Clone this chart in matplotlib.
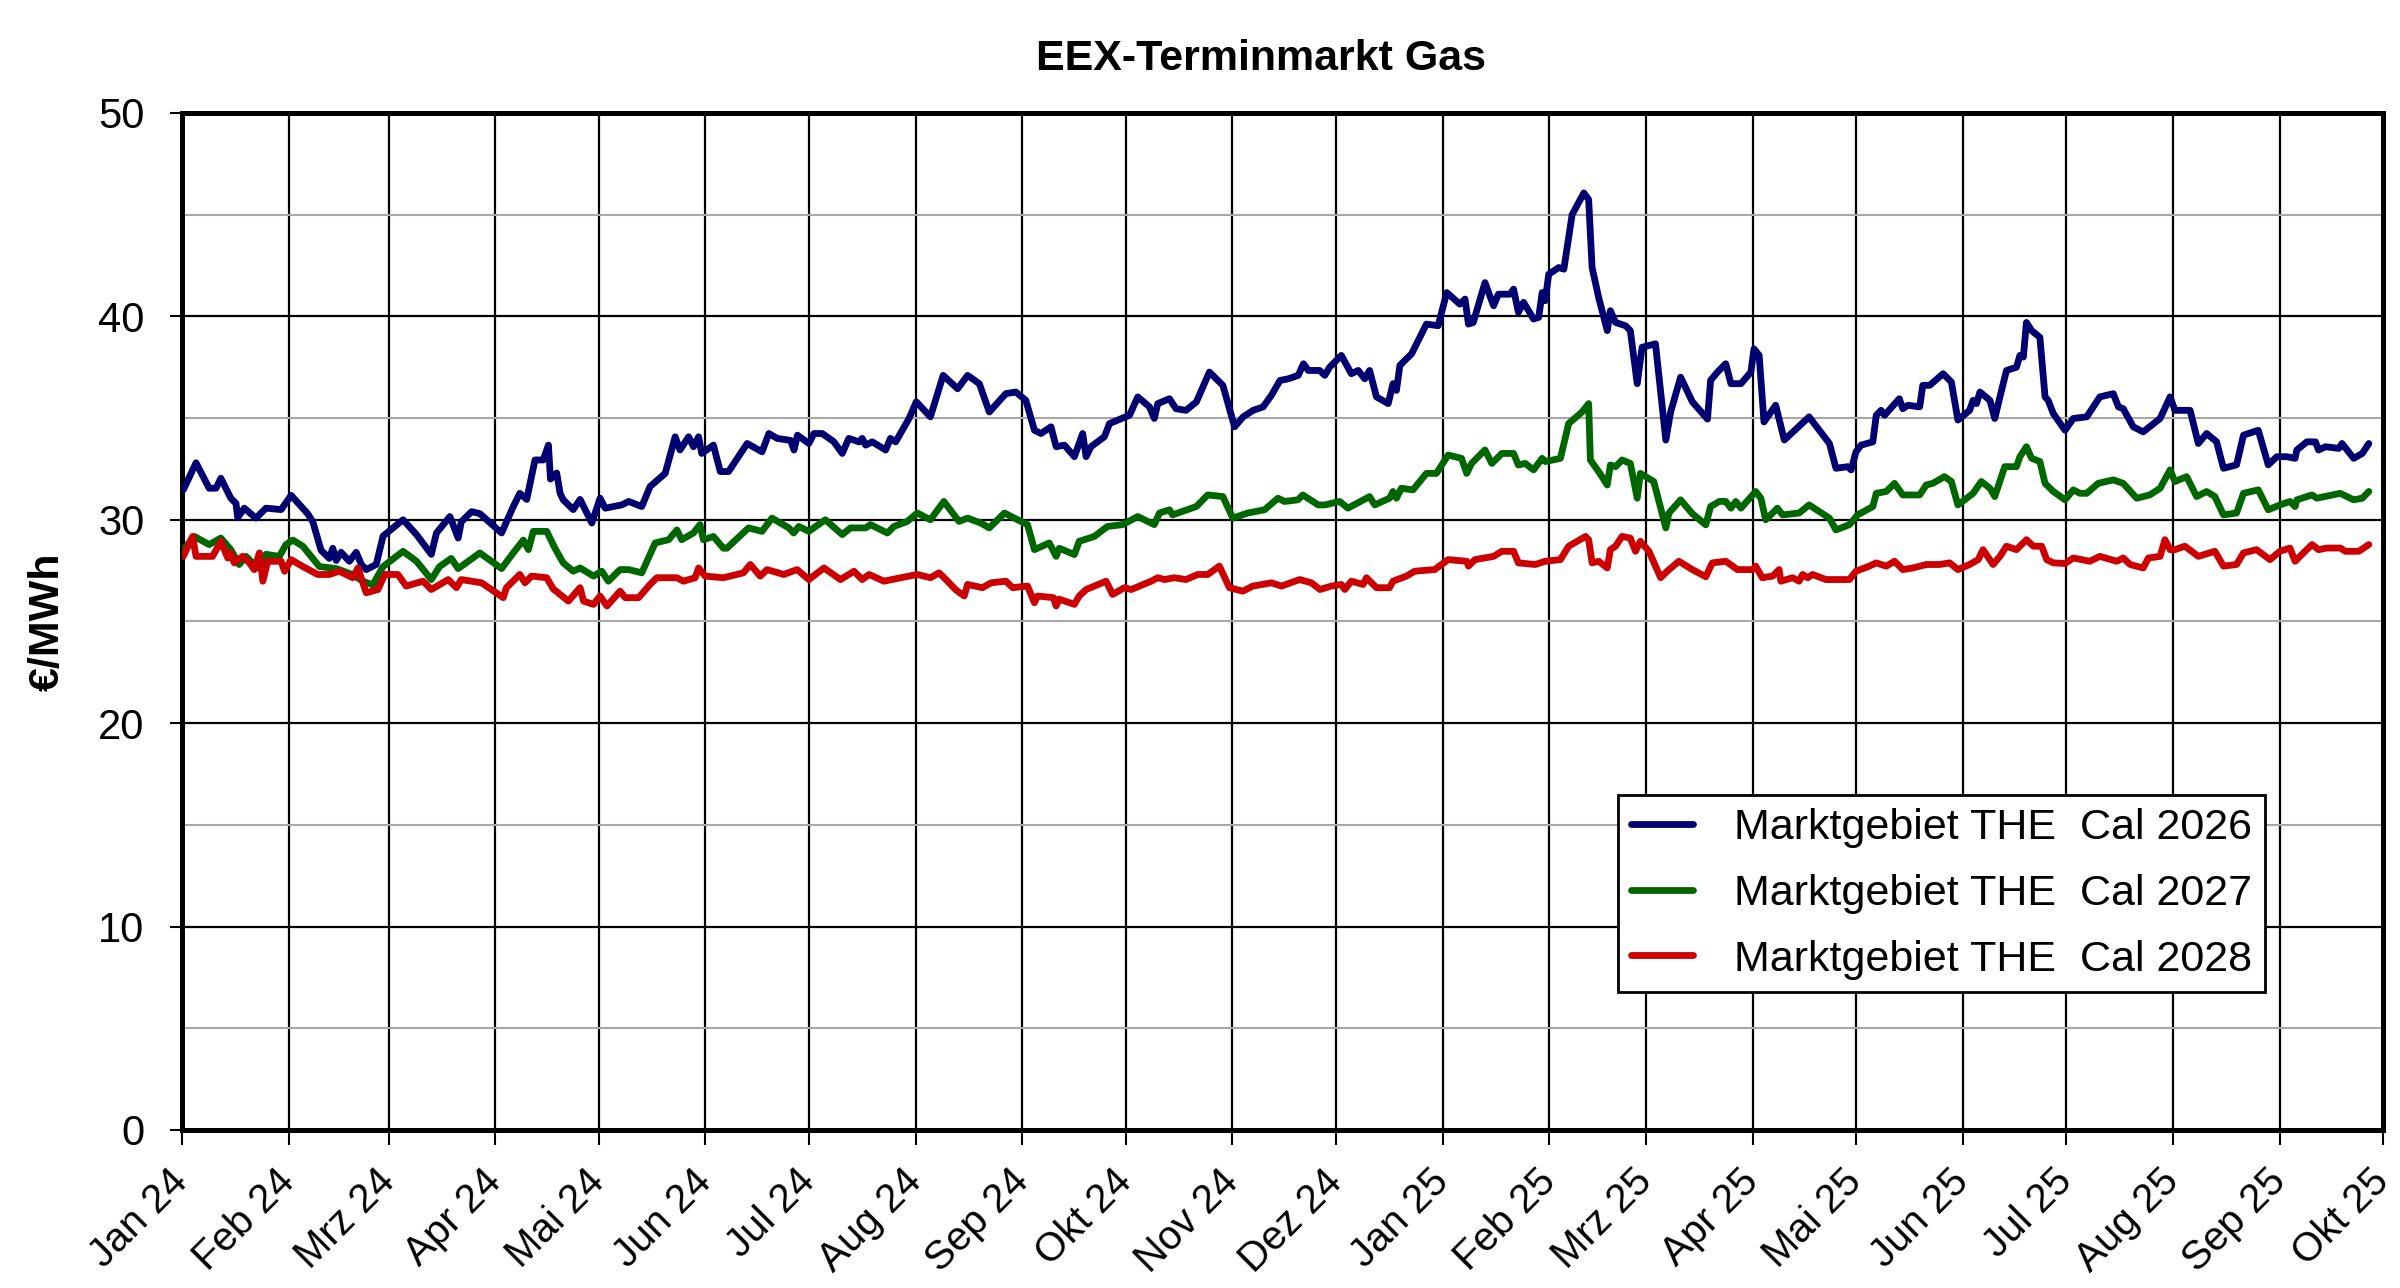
import datetime as dt
import numpy as np
import matplotlib
matplotlib.use("Agg")
import matplotlib.pyplot as plt
import matplotlib.dates as mdates
from matplotlib.ticker import MultipleLocator

plt.rcParams['font.family'] = ['Liberation Sans', 'DejaVu Sans']

title = "EEX-Terminmarkt Gas"
ylabel = "€/MWh"
series_names = ["Marktgebiet THE  Cal 2026", "Marktgebiet THE  Cal 2027", "Marktgebiet THE  Cal 2028"]
series_colors = ["#000070", "#006600", "#CC0000"]

start_date = dt.date(2024, 1, 1)
end_date = dt.date(2025, 10, 1)
month_labels = ["Jan 24", "Feb 24", "Mrz 24", "Apr 24", "Mai 24", "Jun 24", "Jul 24", "Aug 24",
                "Sep 24", "Okt 24", "Nov 24", "Dez 24", "Jan 25", "Feb 25", "Mrz 25", "Apr 25",
                "Mai 25", "Jun 25", "Jul 25", "Aug 25", "Sep 25", "Okt 25"]

# days since 2024-01-01 and values
cal26_days = [0.4, 4.1, 7.9, 9.9, 11.3, 14.2, 15.7, 16.2, 18.1, 21.5, 24.4, 28.8, 31.7, 36.5, 38.0, 40.4,
              42.8, 43.8, 44.8, 46.2, 48.6, 50.6, 52.1, 53.5, 56.4, 58.4, 64.2, 68.1, 72.4, 73.9, 77.8,
              80.2, 81.1, 84.1, 86.5, 92.8, 96.2, 98.1, 100.1, 102.5, 104.9, 106.4, 107.0, 108.8, 109.8,
              110.7, 113.6, 115.6, 119.0, 121.4, 122.9, 127.7, 129.7, 133.5, 135.9, 140.3, 143.2, 144.6,
              147.1, 148.5, 150.0, 150.9, 154.3, 156.3, 158.7, 164.1, 168.4, 170.4, 172.8, 176.7, 177.7,
              178.7, 182.0, 183.5, 185.9, 189.3, 191.7, 193.6, 196.6, 197.5, 198.5, 200.4, 204.3, 205.7,
              207.2, 211.1, 213.2, 217.3, 221.0, 225.2, 228.1, 231.5, 234.4, 239.2, 242.1, 245.0, 247.5,
              249.4, 252.3, 253.8, 256.2, 259.1, 261.5, 262.5, 263.9, 267.8, 269.3, 275.1, 277.5, 280.9,
              282.3, 283.3, 286.7, 288.6, 291.5, 294.5, 298.3, 302.2, 305.6, 308.1, 311.0, 313.9, 316.3,
              318.8, 321.2, 324.1, 325.6, 327.0, 330.3, 331.8, 333.2, 336.6, 339.5, 341.5, 343.4, 344.8,
              346.8, 350.2, 351.6, 352.6, 353.6, 357.0, 361.3, 364.7, 367.2, 371.0, 372.5, 373.5, 374.9,
              378.3, 380.8, 382.2, 385.6, 386.6, 388.0, 389.5, 392.4, 393.9, 394.9, 395.8, 396.8, 399.7,
              401.2, 403.6, 407.0, 408.4, 409.4, 411.3, 413.8, 414.7, 416.2, 419.1, 420.5, 422.5, 423.9,
              427.8, 430.8, 432.2, 435.1, 438.5, 442.9, 443.8, 445.8, 448.2, 449.7, 452.6, 455.5, 456.4,
              457.9, 459.3, 462.7, 465.2, 472.4, 478.3, 480.2, 483.6, 484.6, 486.0, 487.5, 490.9, 491.9,
              493.3, 494.3, 498.6, 499.6, 501.1, 504.5, 505.4, 507.4, 511.3, 513.7, 515.6, 519.0, 520.0,
              521.0, 522.0, 524.9, 526.3, 527.8, 529.7, 532.6, 533.6, 534.6, 535.5, 537.0, 539.4, 540.9,
              541.8, 543.3, 546.7, 549.1, 553.0, 556.8, 560.7, 562.2, 563.6, 566.5, 569.4, 574.3, 577.2,
              578.6, 583.0, 585.4, 587.8, 590.7, 592.7, 596.5, 598.5, 602.8, 605.7, 608.2, 611.1, 613.5,
              614.0, 616.9, 619.4, 620.3, 622.3, 626.2, 627.1, 630.5, 633.0, 634.9]
cal26_vals = [31.47, 32.8, 31.55, 31.55, 32.04, 31.06, 30.8, 30.1, 30.57, 30.08, 30.57, 30.5, 31.2, 30.3,
              29.9, 28.5, 28.1, 28.6, 28.0, 28.4, 27.96, 28.4, 27.8, 27.55, 27.8, 29.2, 30.0, 29.27, 28.3,
              29.35, 30.16, 29.1, 29.9, 30.4, 30.3, 29.35, 30.65, 31.3, 31.0, 32.94, 32.94, 33.67, 32.0,
              32.3, 31.3, 30.98, 30.5, 31.0, 29.84, 31.06, 30.57, 30.73, 30.9, 30.65, 31.63, 32.28, 34.08,
              33.43, 34.08, 33.59, 34.08, 33.26, 33.67, 32.37, 32.37, 33.75, 33.34, 34.24, 34.0, 33.9,
              33.43, 34.16, 33.75, 34.24, 34.24, 33.83, 33.26, 34.0, 33.83, 34.0, 33.67, 33.83, 33.43,
              34.0, 33.83, 34.98, 35.8, 35.06, 37.1, 36.44, 37.1, 36.69, 35.3, 36.2, 36.28, 35.87, 34.4,
              34.24, 34.57, 33.59, 33.67, 33.1, 34.24, 33.1, 33.59, 34.08, 34.73, 35.14, 36.04, 35.55,
              34.98, 35.71, 35.95, 35.46, 35.38, 35.79, 37.26, 36.61, 34.57, 35.06, 35.38, 35.55, 36.12,
              36.85, 36.93, 37.1, 37.67, 37.34, 37.34, 37.1, 37.5, 38.08, 37.18, 37.34, 36.93, 37.34,
              36.04, 35.71, 36.69, 36.36, 37.59, 38.16, 39.62, 39.54, 41.17, 40.6, 40.85, 39.62, 39.7,
              41.66, 40.52, 41.09, 41.09, 41.34, 40.2, 40.69, 39.87, 39.95, 41.17, 40.77, 42.07, 42.4,
              42.32, 45.0, 46.07, 45.74, 42.4, 40.93, 39.3, 40.28, 39.7, 39.54, 39.3, 36.69, 38.48, 38.65,
              33.92, 35.3, 37.01, 35.8, 34.95, 36.85, 37.26, 37.67, 36.69, 36.69, 37.26, 38.4, 38.08,
              34.81, 35.63, 33.92, 35.06, 33.75, 32.53, 32.61, 32.45, 33.34, 33.67, 33.83, 35.14, 35.38,
              35.14, 35.95, 35.46, 35.63, 35.55, 36.61, 36.61, 37.18, 36.77, 34.9, 35.38, 35.87, 35.71,
              36.28, 35.87, 34.98, 36.04, 37.34, 37.5, 38.08, 38.0, 39.7, 39.3, 38.97, 36.04, 35.87, 35.22,
              34.4, 34.98, 35.06, 36.04, 36.2, 35.55, 35.46, 34.57, 34.32, 34.98, 36.04, 35.38, 35.38,
              33.75, 34.24, 33.83, 32.53, 32.7, 34.16, 34.4, 32.7, 33.1, 33.1, 33.02, 33.43, 33.83, 33.83,
              33.43, 33.59, 33.51, 33.75, 33.02, 33.26, 33.75]

cal27_days = [0.4, 3.6, 7.9, 11.3, 14.2, 16.6, 18.6, 22.0, 24.4, 28.3, 30.2, 32.2, 35.1, 39.9, 44.8, 49.6,
              52.5, 55.4, 58.4, 64.2, 68.1, 72.4, 74.8, 78.2, 80.2, 86.5, 92.8, 96.2, 99.1, 100.6, 102.0,
              105.9, 108.3, 110.7, 113.6, 115.6, 119.5, 121.9, 123.8, 127.2, 129.7, 133.5, 137.4, 141.3,
              143.7, 145.1, 148.5, 150.4, 151.4, 154.3, 157.2, 158.2, 164.5, 168.4, 171.3, 176.2, 177.6,
              179.1, 182.0, 186.8, 191.7, 194.1, 198.5, 199.9, 204.8, 206.7, 210.6, 213.5, 217.3, 221.2,
              225.6, 228.1, 231.9, 234.4, 238.8, 242.6, 245.5, 247.5, 251.8, 253.8, 254.7, 259.1, 260.5,
              264.9, 268.7, 273.1, 277.5, 282.3, 283.8, 286.7, 287.6, 294.5, 297.8, 302.2, 305.1, 309.4,
              314.3, 318.2, 320.1, 324.0, 325.4, 329.9, 331.8, 336.1, 338.5, 344.8, 346.3, 350.6, 351.6,
              352.6, 354.0, 357.4, 361.3, 364.2, 367.6, 371.5, 373.0, 374.4, 378.3, 380.3, 383.2, 386.6,
              388.0, 390.0, 392.4, 394.9, 395.8, 400.2, 402.6, 406.5, 408.4, 408.9, 411.3, 413.8, 414.7,
              416.2, 418.1, 420.5, 422.5, 423.4, 427.3, 430.8, 431.7, 435.1, 438.5, 442.4, 443.8, 446.3,
              448.2, 449.7, 451.1, 452.6, 456.9, 458.4, 459.8, 463.2, 464.7, 469.5, 472.4, 478.3, 480.2,
              484.1, 486.5, 490.9, 491.9, 494.8, 497.2, 499.6, 504.5, 506.4, 508.3, 511.7, 513.7, 515.6,
              520.0, 522.4, 524.9, 526.3, 529.2, 532.6, 533.6, 535.5, 537.0, 539.4, 540.9, 543.3, 546.7,
              549.1, 551.0, 553.0, 556.3, 560.7, 563.6, 567.5, 571.3, 574.3, 577.2, 578.6, 582.0, 584.9,
              587.8, 590.2, 592.7, 596.5, 598.5, 602.8, 605.7, 609.1, 612.0, 613.5, 614.0, 618.4, 619.8,
              626.6, 630.5, 633.0, 634.9]
cal27_vals = [28.53, 29.18, 28.78, 29.1, 28.53, 27.8, 28.2, 27.63, 28.3, 28.2, 28.78, 29.0, 28.7, 27.7,
              27.6, 27.3, 26.98, 26.8, 27.7, 28.45, 27.96, 27.06, 27.7, 28.1, 27.6, 28.37, 27.6, 28.37,
              29.0, 28.53, 29.43, 29.43, 28.6, 27.88, 27.47, 27.63, 27.23, 27.47, 26.98, 27.55, 27.55,
              27.39, 28.86, 29.02, 29.5, 29.02, 29.35, 29.76, 29.02, 29.18, 28.6, 28.6, 29.6, 29.43, 30.08,
              29.6, 29.35, 29.67, 29.43, 30.0, 29.27, 29.6, 29.6, 29.76, 29.35, 29.67, 29.92, 30.33, 30.0,
              30.9, 29.92, 30.08, 29.84, 29.6, 30.33, 30.0, 29.76, 28.53, 28.86, 28.2, 28.6, 28.29, 28.94,
              29.18, 29.67, 29.76, 30.16, 29.76, 30.33, 30.49, 30.24, 30.65, 31.22, 31.14, 30.08, 30.33,
              30.49, 31.06, 30.9, 30.98, 31.22, 30.73, 30.73, 30.9, 30.57, 31.14, 30.73, 31.06, 31.39,
              31.06, 31.55, 31.47, 32.28, 32.28, 33.18, 33.02, 32.28, 32.77, 33.43, 32.77, 33.26, 33.26,
              32.69, 32.77, 32.45, 33.02, 32.86, 33.02, 34.73, 35.3, 35.71, 32.94, 32.37, 31.71, 32.69,
              32.61, 32.94, 32.77, 31.06, 32.28, 31.88, 29.6, 30.33, 30.98, 30.3, 29.75, 30.65, 30.9, 30.9,
              30.57, 30.9, 30.57, 31.39, 31.06, 30.0, 30.57, 30.24, 30.33, 30.73, 30.08, 29.5, 29.76, 30.24,
              30.65, 31.3, 31.39, 31.79, 31.22, 31.22, 31.71, 31.79, 32.12, 31.88, 30.73, 31.3, 31.88,
              31.55, 31.14, 32.61, 32.61, 33.1, 33.59, 33.02, 32.86, 31.79, 31.39, 30.98, 31.47, 31.3,
              31.3, 31.79, 31.96, 31.79, 31.06, 31.22, 31.55, 32.45, 31.88, 32.12, 31.14, 31.39, 31.14,
              30.24, 30.33, 31.3, 31.47, 30.49, 30.73, 30.9, 30.65, 30.98, 31.22, 31.06, 31.3, 30.98,
              31.06, 31.39]

cal28_days = [0.4, 3.1, 4.1, 8.9, 11.3, 13.3, 14.2, 15.2, 17.6, 19.6, 21.0, 22.5, 23.5, 24.9, 28.8, 29.8,
              31.7, 35.1, 39.4, 42.8, 45.7, 49.6, 51.1, 53.5, 56.9, 58.9, 62.7, 65.1, 70.0, 72.4, 77.3,
              79.7, 81.1, 87.0, 93.3, 94.2, 98.1, 99.6, 101.5, 105.9, 107.8, 112.2, 115.6, 116.6, 119.5,
              121.4, 123.4, 127.2, 128.7, 132.6, 135.9, 137.9, 143.7, 145.6, 149.0, 150.0, 151.9, 157.2,
              163.0, 165.0, 167.9, 169.9, 174.7, 178.6, 182.0, 186.4, 191.2, 195.1, 197.5, 199.5, 203.8,
              208.7, 213.5, 217.3, 219.8, 221.0, 224.6, 227.1, 228.1, 232.4, 234.9, 239.2, 241.2, 245.5,
              247.5, 248.4, 253.0, 253.8, 254.6, 259.1, 260.5, 262.5, 268.3, 270.2, 273.6, 275.6, 281.4,
              283.3, 285.3, 288.1, 291.5, 294.9, 297.8, 301.2, 304.1, 308.0, 310.9, 316.3, 319.2, 324.5,
              327.9, 330.4, 333.7, 336.6, 337.6, 339.5, 342.9, 343.9, 346.8, 350.6, 351.6, 355.5, 357.9,
              363.7, 367.6, 373.0, 373.5, 375.4, 380.8, 383.2, 386.6, 388.0, 392.9, 395.8, 400.2, 402.6,
              407.5, 408.4, 409.4, 411.3, 413.8, 414.7, 416.2, 418.1, 420.5, 422.0, 423.4, 425.9, 429.3,
              431.2, 434.6, 438.5, 442.4, 444.3, 448.2, 451.6, 456.0, 456.9, 458.8, 461.8, 463.7, 464.2,
              467.6, 469.5, 470.5, 472.0, 473.4, 477.3, 484.1, 486.0, 489.9, 491.9, 494.8, 497.2, 499.6,
              502.5, 506.4, 510.3, 513.2, 515.6, 519.0, 521.5, 522.9, 525.8, 527.8, 529.7, 532.6, 535.5,
              537.5, 539.9, 541.4, 543.3, 546.7, 549.1, 553.9, 556.8, 561.7, 563.6, 565.6, 569.4, 570.9,
              574.3, 575.7, 577.2, 578.6, 581.5, 585.4, 590.2, 592.7, 596.5, 598.5, 602.3, 606.2, 609.1,
              612.0, 613.5, 615.9, 618.4, 620.3, 622.7, 626.6, 628.1, 632.0, 634.9]
cal28_vals = [28.2, 29.18, 28.2, 28.2, 28.94, 28.12, 28.37, 27.88, 28.2, 27.88, 27.55, 28.37, 26.98, 27.96,
              27.96, 27.47, 28.04, 27.7, 27.31, 27.31, 27.47, 27.15, 27.63, 26.41, 26.57, 27.31, 27.31,
              26.74, 26.98, 26.57, 27.06, 26.66, 27.06, 26.9, 26.17, 26.66, 27.31, 26.9, 27.23, 27.15,
              26.6, 26.0, 26.66, 26.0, 25.84, 26.25, 25.76, 26.49, 26.17, 26.17, 26.82, 27.15, 27.15,
              26.98, 27.15, 27.63, 27.23, 27.15, 27.39, 27.8, 27.23, 27.55, 27.31, 27.55, 27.06, 27.63,
              27.06, 27.47, 27.06, 27.31, 26.98, 27.15, 27.31, 27.15, 27.39, 27.2, 26.57, 26.25, 26.82,
              26.66, 26.9, 26.98, 26.66, 26.74, 25.92, 26.25, 26.17, 25.76, 26.1, 25.84, 26.25, 26.57,
              26.98, 26.33, 26.66, 26.57, 26.98, 27.15, 27.06, 27.15, 27.06, 27.31, 27.31, 27.72, 26.66,
              26.49, 26.74, 26.9, 26.74, 27.06, 26.9, 26.57, 26.74, 26.82, 26.57, 26.98, 26.82, 27.15,
              26.66, 26.66, 26.98, 27.23, 27.47, 27.55, 28.04, 27.96, 27.72, 28.04, 28.2, 28.45, 28.45,
              27.88, 27.8, 27.96, 28.04, 28.7, 29.18, 29.02, 27.88, 27.96, 27.63, 28.53, 28.7, 29.18, 29.1,
              28.45, 28.94, 28.45, 27.15, 27.47, 27.96, 27.55, 27.2, 27.88, 27.96, 27.55, 27.55, 27.72,
              27.15, 27.23, 27.55, 26.98, 27.15, 26.98, 27.31, 27.15, 27.31, 27.06, 27.06, 27.47, 27.72,
              27.88, 27.72, 27.96, 27.55, 27.63, 27.8, 27.8, 27.88, 27.55, 27.8, 28.04, 28.53, 27.8, 28.2,
              28.7, 28.53, 29.02, 28.7, 28.7, 28.04, 27.88, 27.85, 28.12, 27.96, 28.2, 27.96, 28.12, 27.8,
              27.63, 28.12, 28.2, 29.02, 28.53, 28.53, 28.7, 28.2, 28.45, 27.72, 27.8, 28.37, 28.53, 28.04,
              28.45, 28.61, 27.96, 28.37, 28.78, 28.53, 28.61, 28.61, 28.45, 28.45, 28.78]

y_ticks = [0, 10, 20, 30, 40, 50]

fig = plt.figure(figsize=(24, 12.88), dpi=100)
ax = fig.add_axes([0.0758, 0.1227, 0.9171, 0.7896])

base = mdates.date2num(start_date)
for d, v, name, col in zip([cal26_days, cal27_days, cal28_days],
                           [cal26_vals, cal27_vals, cal28_vals],
                           series_names, series_colors):
    ax.plot(base + np.asarray(d), v, color=col, lw=4.9, label=name,
            solid_joinstyle='round', solid_capstyle='round', zorder=3)

ax.set_xlim(mdates.date2num(start_date), mdates.date2num(end_date))
ax.set_ylim(0, 50)

month_starts = [dt.date(2024 + (i // 12), i % 12 + 1, 1) for i in range(len(month_labels))]
ax.set_xticks(mdates.date2num(month_starts))
ax.set_xticklabels(month_labels, rotation=45, ha='right', va='center', rotation_mode='anchor', fontsize=29)
ax.set_yticks(y_ticks)
ax.set_yticklabels([str(t) for t in y_ticks], fontsize=30)
ax.yaxis.set_minor_locator(MultipleLocator(5))

ax.tick_params(axis='x', which='major', length=11, width=1.5, pad=22, direction='out')
ax.tick_params(axis='y', which='major', length=9, width=1.5, pad=18, direction='out')
ax.tick_params(axis='y', which='minor', length=0)

ax.grid(True, axis='y', which='major', color='black', lw=1.6, zorder=1)
ax.grid(True, axis='y', which='minor', color='#a8a8a8', lw=1.5, zorder=1)
ax.grid(True, axis='x', which='major', color='black', lw=1.6, zorder=1)
ax.set_axisbelow(True)

for s in ax.spines.values():
    s.set_linewidth(3.6)
    s.set_color('black')

ax.set_ylabel(ylabel, fontsize=31, fontweight='bold')
ax.yaxis.set_label_coords(-0.052, 0.5)

fig.text(0.5255, 0.9545, title, fontsize=31, fontweight='bold', ha='center', va='center')

leg = ax.legend(loc='upper left', bbox_to_anchor=(0.6524, 0.3294), fontsize=31,
                frameon=True, fancybox=False, edgecolor='black', framealpha=1,
                handlelength=1.45, handletextpad=0.95, labelspacing=0.6,
                borderpad=0.3, borderaxespad=0)
leg.get_frame().set_linewidth(2.0)
leg.set_zorder(5)

fig.savefig("out.png", dpi=100, facecolor='white')
